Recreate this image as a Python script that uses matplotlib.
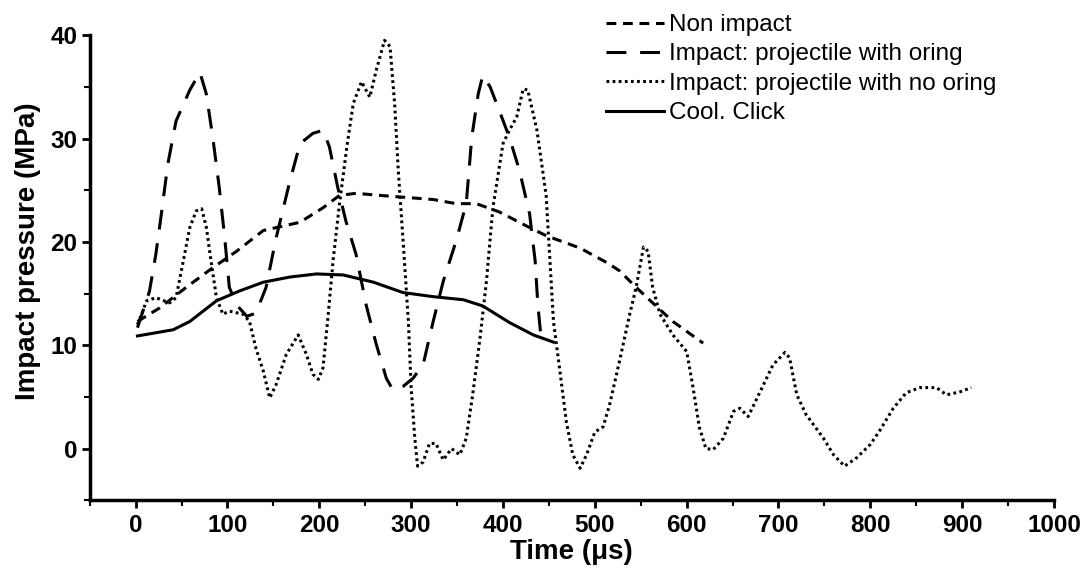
import matplotlib
matplotlib.use('Agg')
import matplotlib.pyplot as plt
from matplotlib import font_manager
from matplotlib.ticker import MultipleLocator

names = {f.name for f in font_manager.fontManager.ttflist}
narrow = 'Liberation Sans Narrow' if 'Liberation Sans Narrow' in names else 'Liberation Sans'
plt.rcParams['font.family'] = [narrow, 'DejaVu Sans']

# Non impact
t_non = [2, 26, 55, 84, 110, 139, 179, 204, 222, 240, 266, 295, 324, 349, 371,
         396, 422, 447, 484, 513, 527, 545, 563, 585, 618]
p_non = [12.3, 13.6, 15.6, 17.5, 19.1, 21.1, 21.9, 23.3, 24.5, 24.7, 24.5, 24.3, 24.1,
         23.7, 23.7, 22.9, 21.7, 20.6, 19.4, 18.0, 17.2, 15.6, 14.1, 12.3, 10.2]

# Impact: projectile with oring
t_or = [2, 15, 22, 28, 35, 44, 59, 70, 77, 84, 91, 97, 102, 110, 121, 131, 142, 153,
        168, 179, 193, 204, 211, 220, 229, 240, 251, 262, 273, 280, 291, 302, 313, 324,
        335, 349, 360, 366, 373, 378, 386, 396, 407, 418, 429, 435, 438, 442]
p_or = [11.7, 15.2, 18.8, 22.7, 27.5, 31.7, 34.7, 36.4, 34.3, 30.1, 25.3, 20.4, 15.6,
        13.9, 12.8, 13.1, 15.6, 20.4, 25.9, 29.5, 30.5, 30.8, 29.2, 25.3, 22.0, 18.8,
        13.9, 10.1, 6.8, 5.7, 6.0, 6.8, 8.1, 12.3, 16.2, 20.1, 23.7, 30.1, 34.3, 36.1,
        35.0, 32.7, 30.1, 26.9, 22.7, 18.2, 13.9, 10.2]

# Impact: projectile with no oring
t_no = [2, 12, 22, 37, 44, 52, 59, 66, 72, 77, 82, 88, 95, 102, 117, 124, 131, 139,
        146, 153, 164, 177, 186, 193, 199, 204, 209, 215, 222, 230, 237, 246, 255, 262,
        271, 277, 282, 286, 291, 297, 300, 304, 307, 313, 320, 327, 335, 344, 353, 360,
        367, 375, 382, 389, 400, 407, 415, 422, 427, 437, 447, 455, 462, 469, 476, 484,
        491, 500, 509, 516, 527, 538, 545, 553, 558, 563, 571, 585, 600, 607, 614, 621,
        629, 640, 651, 658, 667, 680, 694, 707, 712, 720, 730, 749, 760, 772, 785, 800,
        810, 825, 839, 854, 872, 883, 898, 910]
p_no = [12.0, 14.3, 14.6, 14.1, 14.6, 18.2, 21.4, 23.0, 23.2, 21.4, 18.2, 14.6, 13.0,
        13.3, 13.0, 12.3, 9.7, 7.5, 4.9, 6.2, 9.1, 11.0, 9.1, 7.2, 6.7, 7.8, 12.3, 18.2,
        23.7, 29.2, 33.4, 35.5, 34.0, 36.6, 39.5, 38.9, 33.4, 26.9, 20.4, 12.3, 5.9, 1.0,
        -1.7, -1.3, 0.5, 0.5, -1.1, 0.0, -0.6, 1.0, 5.2, 10.7, 16.2, 23.3, 29.5, 30.8,
        32.1, 34.8, 34.7, 30.8, 24.5, 12.3, 7.5, 2.6, -0.6, -1.9, -0.6, 1.6, 2.1, 4.2,
        8.5, 13.0, 15.6, 19.5, 19.1, 15.6, 13.0, 11.0, 9.4, 5.9, 2.0, 0.0, -0.1, 1.0,
        3.6, 3.9, 3.1, 5.5, 8.1, 9.3, 8.8, 5.2, 3.3, 1.0, -0.6, -1.7, -0.9, 0.4, 1.7,
        3.9, 5.4, 5.9, 5.9, 5.2, 5.5, 5.9]

# Cool. Click
t_cc = [2, 41, 59, 88, 113, 139, 168, 197, 226, 259, 291, 324, 357, 378, 407, 433, 455]
p_cc = [10.9, 11.5, 12.3, 14.3, 15.25, 16.1, 16.6, 16.9, 16.8, 16.1, 15.1, 14.7, 14.4,
        13.8, 12.2, 11.0, 10.3]

fig = plt.figure(figsize=(10.81, 5.77), dpi=100)
ax = fig.add_axes([0.083, 0.133, 0.892, 0.806])

ax.plot(t_non, p_non, color='black', lw=2.2, dashes=(3.2, 2.2), label='Non impact')
ax.plot(t_or, p_or, color='black', lw=2.2, dashes=(6.5, 4.5), label='Impact: projectile with oring')
ax.plot(t_no, p_no, color='black', lw=2.2, dashes=(0.9, 1.1), label='Impact: projectile with no oring')
ax.plot(t_cc, p_cc, color='black', lw=2.2, label='Cool. Click')

ax.set_xlim(-50, 1000)
ax.set_ylim(-5, 40)
ax.xaxis.set_major_locator(MultipleLocator(100))
ax.xaxis.set_minor_locator(MultipleLocator(50))
ax.yaxis.set_major_locator(MultipleLocator(10))
ax.yaxis.set_minor_locator(MultipleLocator(5))

for s in ['top', 'right']:
    ax.spines[s].set_visible(False)
for s in ['left', 'bottom']:
    ax.spines[s].set_linewidth(2.5)

ax.tick_params(which='major', length=6, width=2, direction='out', labelsize=17.5)
ax.tick_params(axis='x', which='major', pad=4)
ax.tick_params(axis='y', which='major', pad=3)
ax.tick_params(which='minor', length=4, width=1.5, direction='out')
for lab in ax.get_xticklabels() + ax.get_yticklabels():
    lab.set_fontweight('bold')

ax.set_xlabel('Time (\u03bcs)', fontsize=20, fontweight='bold', labelpad=1)
ax.set_ylabel('Impact pressure (MPa)', fontsize=20, fontweight='bold')
ax.yaxis.set_label_coords(-0.051, 0.535)

leg = fig.legend(loc='upper left', bbox_to_anchor=(0.545, 1.005), frameon=False,
                 fontsize=17.5, handlelength=2.4, handletextpad=0.2, labelspacing=0.3,
                 borderpad=0.2)

fig.savefig('out.png', dpi=100)
